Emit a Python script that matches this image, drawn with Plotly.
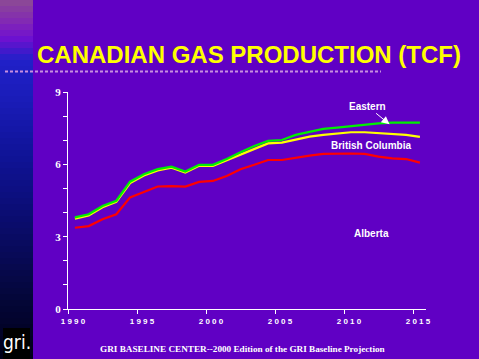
import plotly.graph_objects as go

years = list(range(1990, 2016))
alberta = [3.37, 3.44, 3.72, 3.93, 4.63, 4.87, 5.08, 5.10, 5.08, 5.27, 5.31, 5.52, 5.80,
           5.98, 6.18, 6.18, 6.28, 6.36, 6.43, 6.45, 6.45, 6.43, 6.32, 6.25, 6.22, 6.07]
british_columbia = [3.75, 3.88, 4.22, 4.44, 5.22, 5.54, 5.75, 5.86, 5.66, 5.94, 5.94, 6.17, 6.39,
                    6.64, 6.87, 6.90, 7.04, 7.15, 7.22, 7.29, 7.33, 7.33, 7.29, 7.27, 7.22, 7.14]
eastern = [3.80, 3.93, 4.27, 4.49, 5.28, 5.59, 5.80, 5.90, 5.70, 5.98, 5.98, 6.22, 6.50,
           6.76, 6.97, 7.01, 7.22, 7.36, 7.47, 7.52, 7.59, 7.66, 7.70, 7.73, 7.73, 7.73]
x_ticks = [1990, 1995, 2000, 2005, 2010, 2015]
x_ticktext = ["1 9 9 0", "1 9 9 5", "2 0 0 0", "2 0 0 5", "2 0 1 0", "2 0 1 5"]
y_ticks = [0, 3, 6, 9]

W, H = 479, 359
L, R, T, B = 68, 53, 92, 50
pw, ph = W - L - R, H - T - B
BG = "#6000c4"

def px_x(p):
    return (p - L) / pw

def px_y(p):
    return (H - B - p) / ph

xmid = [y + 0.5 for y in years]

fig = go.Figure()
for name, vals, col in [("Alberta", alberta, "#ff0000"),
                        ("British Columbia", british_columbia, "#ffff00"),
                        ("Eastern", eastern, "#00f000")]:
    fig.add_trace(go.Scatter(x=xmid, y=vals, mode="lines", name=name,
                             line=dict(color=col, width=2.2), showlegend=False))

# left gradient strip
stops = [(0, (0x8c, 0x4c, 0x94)), (22, (0x82, 0x28, 0xb4)), (38, (0x70, 0x10, 0xd0)),
         (60, (0x20, 0x20, 0xc8)), (100, (0x1a, 0x1c, 0xb8)), (150, (0x10, 0x14, 0x9a)),
         (200, (0x0c, 0x0e, 0x7c)), (250, (0x08, 0x0a, 0x5a)), (300, (0x04, 0x06, 0x38)),
         (359, (0x00, 0x00, 0x18))]

def grad(p):
    for (a, ca), (b, cb) in zip(stops[:-1], stops[1:]):
        if a <= p <= b:
            t = (p - a) / (b - a)
            c = [round(ca[i] + (cb[i] - ca[i]) * t) for i in range(3)]
            return "rgb(%d,%d,%d)" % tuple(c)
    return "rgb(0,0,24)"

shapes = []
step = 6
for p in range(0, H, step):
    shapes.append(dict(type="rect", xref="paper", yref="paper",
                       x0=px_x(0), x1=px_x(33), y0=px_y(p + step + 0.5), y1=px_y(p),
                       fillcolor=grad(p + step / 2), line=dict(width=0), layer="below"))
# logo box
shapes.append(dict(type="rect", xref="paper", yref="paper",
                   x0=px_x(3), x1=px_x(30), y0=px_y(359), y1=px_y(328),
                   fillcolor="#000000", line=dict(width=0)))
# dotted rule under title
shapes.append(dict(type="line", xref="paper", yref="paper",
                   x0=px_x(5), x1=px_x(381), y0=px_y(71.5), y1=px_y(71.5),
                   line=dict(color="#c890e0", width=2, dash="3px,2px")))

annotations = [
    dict(text="CANADIAN GAS PRODUCTION (TCF)", xref="paper", yref="paper",
         x=px_x(249), y=px_y(55), showarrow=False, xanchor="center", yanchor="middle",
         font=dict(family="Liberation Sans, Arial, sans-serif", size=24, color="#ffff00", weight="bold")),
    dict(text="GRI BASELINE CENTER--2000 Edition of the GRI Baseline Projection",
         xref="paper", yref="paper", x=px_x(242), y=px_y(349), showarrow=False,
         xanchor="center", yanchor="middle",
         font=dict(family="Liberation Serif, Times New Roman, serif", size=9.2, color="#ffffff", weight="bold")),
    dict(text="gri.", xref="paper", yref="paper", x=px_x(16.5), y=px_y(342), showarrow=False,
         xanchor="center", yanchor="middle",
         font=dict(family="DejaVu Sans Condensed, Liberation Sans Narrow, sans-serif", size=19, color="#ffffff")),
    dict(text="Eastern", x=2013.3, y=7.66, ax=-22, ay=-18, showarrow=True,
         arrowhead=2, arrowsize=1.6, arrowwidth=1, arrowcolor="#ffffff",
         font=dict(family="Liberation Sans, Arial, sans-serif", size=10, color="#ffffff", weight="bold")),
    dict(text="British Columbia", xref="paper", yref="paper", x=px_x(371), y=px_y(145),
         showarrow=False, xanchor="center", yanchor="middle",
         font=dict(family="Liberation Sans, Arial, sans-serif", size=10, color="#ffffff", weight="bold")),
    dict(text="Alberta", xref="paper", yref="paper", x=px_x(371), y=px_y(233),
         showarrow=False, xanchor="center", yanchor="middle",
         font=dict(family="Liberation Sans, Arial, sans-serif", size=10, color="#ffffff", weight="bold")),
]

fig.update_layout(
    width=W, height=H, margin=dict(l=L, r=R, t=T, b=B, pad=0),
    paper_bgcolor=BG, plot_bgcolor=BG, shapes=shapes, annotations=annotations,
    xaxis=dict(range=[1990, 1990 + pw / 13.8], tickvals=x_ticks, ticktext=x_ticktext,
               showgrid=False, zeroline=False, showline=True, linecolor="#ffffff", linewidth=1,
               ticks="outside", ticklen=4, tickcolor="#ffffff", tickwidth=1, ticklabelshift=5,
               tickfont=dict(family="Liberation Sans, Arial, sans-serif", size=8, color="#ffffff", weight="bold")),
    yaxis=dict(range=[0, 9], tickvals=y_ticks, showgrid=False, zeroline=False,
               showline=True, linecolor="#ffffff", linewidth=1,
               ticks="outside", ticklen=4, tickcolor="#ffffff", tickwidth=1,
               minor=dict(dtick=1, ticks="outside", ticklen=4, tickcolor="#ffffff", tickwidth=1),
               tickfont=dict(family="Liberation Serif, Times New Roman, serif", size=11, color="#ffffff", weight="bold")),
)

fig.write_html("out.html", config={"displayModeBar": False},
               post_script="document.body.style.margin='0';document.body.style.padding='0';"
                           "document.documentElement.style.overflow='hidden';")
